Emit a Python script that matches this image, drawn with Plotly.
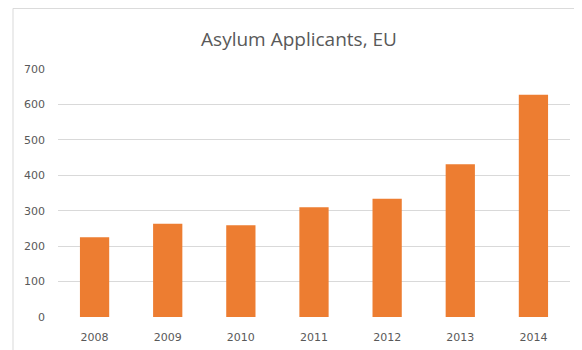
import plotly.graph_objects as go

years = ["2008", "2009", "2010", "2011", "2012", "2013", "2014"]
applicants = [225, 263, 259, 310, 334, 431, 627]
y_ticks = [0, 100, 200, 300, 400, 500, 600, 700]

# page body adds an 8px offset; screen coordinates are shifted accordingly
OFF = 8
W, H = 582, 350
L = 58 - OFF
T = 69.4 - OFF
plot_right = 570 - OFF
plot_bottom = 316.7 - OFF
R = W - plot_right
B = H - plot_bottom
pw = plot_right - L
ph = plot_bottom - T

fig = go.Figure(go.Bar(x=years, y=applicants, marker=dict(color="#ED7D31", line=dict(width=0))))

fig.update_layout(
    width=W, height=H,
    margin=dict(l=L, r=R, t=T, b=B),
    paper_bgcolor="white", plot_bgcolor="white",
    bargap=0.6,
    showlegend=False,
    title=dict(text="Asylum Applicants, EU", x=(299 - OFF) / W, xanchor="center",
               y=1 - (39 - OFF) / H, yanchor="middle",
               font=dict(family="Open Sans", size=19, color="#595959")),
    font=dict(family="DejaVu Sans", size=11, color="#595959"),
)
fig.update_xaxes(showgrid=False, showline=False, ticks="", ticklabelstandoff=12,
                 tickfont=dict(size=11, color="#595959"))
fig.update_yaxes(range=[0, 700], tickvals=y_ticks, showgrid=True, gridcolor="#d9d9d9", gridwidth=1,
                 zeroline=False, showline=False, ticks="", ticklabelstandoff=12,
                 tickfont=dict(size=11, color="#595959"))

fig.add_shape(type="rect", xref="paper", yref="paper",
              x0=(13 - OFF - L) / pw, x1=1.2, y0=-0.3, y1=(plot_bottom - (9 - OFF)) / ph,
              line=dict(color="#d9d9d9", width=1), fillcolor="rgba(0,0,0,0)", layer="below")

fig.write_html("out.html")
